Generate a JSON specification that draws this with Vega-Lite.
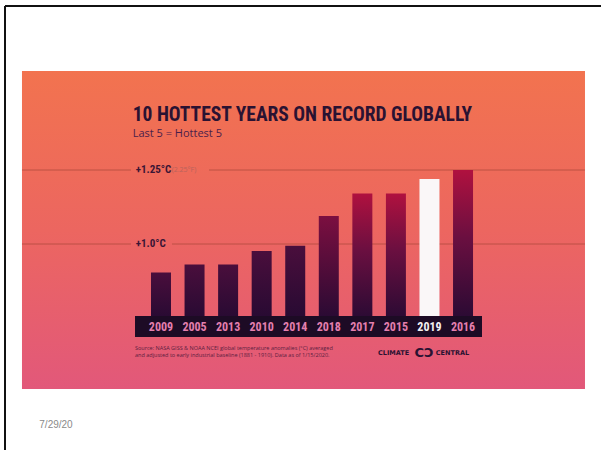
{
  "$schema": "https://vega.github.io/schema/vega-lite/v6.json",
  "width": 596,
  "height": 444,
  "autosize": {"type": "none"},
  "padding": {"left": 5, "top": 6, "right": 0, "bottom": 0},
  "background": "white",
  "config": {"view": {"stroke": null}, "axis": {"disable": true}},
  "datasets": {
    "years": [
      {"year": "2009", "rank": 1, "anomaly": 0.904},
      {"year": "2005", "rank": 2, "anomaly": 0.931},
      {"year": "2013", "rank": 3, "anomaly": 0.931},
      {"year": "2010", "rank": 4, "anomaly": 0.976},
      {"year": "2014", "rank": 5, "anomaly": 0.994},
      {"year": "2018", "rank": 6, "anomaly": 1.095},
      {"year": "2017", "rank": 7, "anomaly": 1.171},
      {"year": "2015", "rank": 8, "anomaly": 1.171},
      {"year": "2019", "rank": 9, "anomaly": 1.22},
      {"year": "2016", "rank": 10, "anomaly": 1.25}
    ]
  },
  "layer": [
    {
      "data": {"values": [{}]},
      "mark": {"type": "rule", "color": "#111111", "strokeWidth": 2},
      "encoding": {
        "x": {"datum": -3.648, "type": "quantitative", "scale": {"domain": [-3.648, 14.111], "nice": false, "zero": false, "padding": 0}, "axis": null},
        "y": {"datum": 1.8041, "type": "quantitative", "scale": {"domain": [0.3041, 1.8041], "nice": false, "zero": false, "padding": 0}, "axis": null},
        "y2": {"datum": 0.3041}
      }
    },
    {
      "data": {"values": [{}]},
      "mark": {"type": "rule", "color": "#111111", "strokeWidth": 2},
      "encoding": {
        "x": {"datum": -3.648, "type": "quantitative"},
        "x2": {"datum": 14.111},
        "y": {"datum": 1.8041, "type": "quantitative"}
      }
    },
    {
      "data": {"values": [{}]},
      "mark": {"type": "rect", "color": {"gradient": "linear", "x1": 0, "y1": 0, "x2": 0, "y2": 1, "stops": [{"offset": 0, "color": "#F2734F"}, {"offset": 0.5, "color": "#EC6660"}, {"offset": 1, "color": "#E2587A"}]}},
      "encoding": {
        "x": {"datum": -3.142, "type": "quantitative"},
        "x2": {"datum": 13.634},
        "y": {"datum": 1.5845, "type": "quantitative"},
        "y2": {"datum": 0.5101}
      }
    },
    {
      "data": {"values": [{}]},
      "mark": {"type": "rule", "color": "#A8483A", "opacity": 0.7, "strokeWidth": 1},
      "encoding": {"x": {"datum": -3.142, "type": "quantitative"}, "x2": {"datum": 0.106}, "y": {"datum": 1.25, "type": "quantitative"}}
    },
    {
      "data": {"values": [{}]},
      "mark": {"type": "rule", "color": "#A8483A", "opacity": 0.7, "strokeWidth": 1},
      "encoding": {"x": {"datum": 2.431, "type": "quantitative"}, "x2": {"datum": 13.634}, "y": {"datum": 1.25, "type": "quantitative"}}
    },
    {
      "data": {"values": [{}]},
      "mark": {"type": "rule", "color": "#A8483A", "opacity": 0.7, "strokeWidth": 1},
      "encoding": {"x": {"datum": -3.142, "type": "quantitative"}, "x2": {"datum": 0.106}, "y": {"datum": 1.0, "type": "quantitative"}}
    },
    {
      "data": {"values": [{}]},
      "mark": {"type": "rule", "color": "#A8483A", "opacity": 0.7, "strokeWidth": 1},
      "encoding": {"x": {"datum": 1.328, "type": "quantitative"}, "x2": {"datum": 13.634}, "y": {"datum": 1.0, "type": "quantitative"}}
    },
    {
      "data": {"name": "years"},
      "transform": [{"filter": {"field": "year", "oneOf": ["2009", "2005", "2013", "2010", "2014"]}}],
      "mark": {"type": "bar", "width": 20, "orient": "vertical", "color": {"gradient": "linear", "x1": 0, "y1": 0, "x2": 0, "y2": 1, "stops": [{"offset": 0, "color": "#4A0E3C"}, {"offset": 1, "color": "#260A32"}]}},
      "encoding": {"x": {"field": "rank", "type": "quantitative"}, "y": {"field": "anomaly", "type": "quantitative"}, "y2": {"datum": 0.74}}
    },
    {
      "data": {"name": "years"},
      "transform": [{"filter": {"field": "year", "oneOf": ["2018"]}}],
      "mark": {"type": "bar", "width": 20, "orient": "vertical", "color": {"gradient": "linear", "x1": 0, "y1": 0, "x2": 0, "y2": 1, "stops": [{"offset": 0, "color": "#7C0F40"}, {"offset": 1, "color": "#270A33"}]}},
      "encoding": {"x": {"field": "rank", "type": "quantitative"}, "y": {"field": "anomaly", "type": "quantitative"}, "y2": {"datum": 0.74}}
    },
    {
      "data": {"name": "years"},
      "transform": [{"filter": {"field": "year", "oneOf": ["2017", "2015", "2016"]}}],
      "mark": {"type": "bar", "width": 20, "orient": "vertical", "color": {"gradient": "linear", "x1": 0, "y1": 0, "x2": 0, "y2": 1, "stops": [{"offset": 0, "color": "#B0113F"}, {"offset": 0.45, "color": "#6A0F40"}, {"offset": 1, "color": "#280A33"}]}},
      "encoding": {"x": {"field": "rank", "type": "quantitative"}, "y": {"field": "anomaly", "type": "quantitative"}, "y2": {"datum": 0.74}}
    },
    {
      "data": {"name": "years"},
      "transform": [{"filter": {"field": "year", "oneOf": ["2019"]}}],
      "mark": {"type": "bar", "width": 20, "orient": "vertical", "color": "#FAF7F8"},
      "encoding": {"x": {"field": "rank", "type": "quantitative"}, "y": {"field": "anomaly", "type": "quantitative"}, "y2": {"datum": 0.74}}
    },
    {
      "data": {"values": [{}]},
      "mark": {"type": "rect", "color": "#1D0B25"},
      "encoding": {
        "x": {"datum": 0.226, "type": "quantitative"},
        "x2": {"datum": 10.565},
        "y": {"datum": 0.757, "type": "quantitative"},
        "y2": {"datum": 0.686}
      }
    },
    {
      "data": {"name": "years"},
      "mark": {"type": "text", "font": "Roboto Condensed, Roboto", "fontWeight": "bold", "fontSize": 12, "letterSpacing": -0.6, "baseline": "middle", "align": "center"},
      "encoding": {
        "x": {"field": "rank", "type": "quantitative"},
        "y": {"datum": 0.7206, "type": "quantitative"},
        "text": {"field": "year"},
        "color": {"condition": {"test": "datum.year === '2019'", "value": "#F4F0F2"}, "value": "#E47FAE"}
      }
    },
    {
      "data": {"values": [{}]},
      "mark": {"type": "text", "text": "10 HOTTEST YEARS ON RECORD GLOBALLY", "font": "Roboto Condensed, Roboto", "fontWeight": "bold", "fontSize": 19.5, "letterSpacing": -1.6, "align": "left", "baseline": "alphabetic", "color": "#2A1232"},
      "encoding": {"x": {"datum": 0.157, "type": "quantitative"}, "y": {"datum": 1.4155, "type": "quantitative"}}
    },
    {
      "data": {"values": [{}]},
      "mark": {"type": "text", "text": "Last 5 = Hottest 5", "font": "Open Sans", "fontSize": 11, "align": "left", "baseline": "alphabetic", "color": "#4A1E4A"},
      "encoding": {"x": {"datum": 0.157, "type": "quantitative"}, "y": {"datum": 1.3632, "type": "quantitative"}}
    },
    {
      "data": {"values": [{}]},
      "mark": {"type": "text", "text": "+1.25°C", "font": "Roboto Condensed, Roboto", "fontWeight": "bold", "fontSize": 11, "letterSpacing": -0.5, "align": "left", "baseline": "middle", "color": "#3A1535"},
      "encoding": {"x": {"datum": 0.247, "type": "quantitative"}, "y": {"datum": 1.25, "type": "quantitative"}}
    },
    {
      "data": {"values": [{}]},
      "mark": {"type": "text", "text": "(2.25°F)", "font": "Open Sans", "fontSize": 7, "align": "left", "baseline": "middle", "color": "#B8635C"},
      "encoding": {"x": {"datum": 1.319, "type": "quantitative"}, "y": {"datum": 1.25, "type": "quantitative"}}
    },
    {
      "data": {"values": [{}]},
      "mark": {"type": "text", "text": "+1.0°C", "font": "Roboto Condensed, Roboto", "fontWeight": "bold", "fontSize": 11, "letterSpacing": -0.5, "align": "left", "baseline": "middle", "color": "#3A1535"},
      "encoding": {"x": {"datum": 0.247, "type": "quantitative"}, "y": {"datum": 1.0, "type": "quantitative"}}
    },
    {
      "data": {"values": [{}]},
      "mark": {"type": "text", "text": ["Source: NASA GISS & NOAA NCEI global temperature anomalies (°C) averaged", "and adjusted to early industrial baseline (1881 - 1910). Data as of 1/15/2020."], "font": "Open Sans", "fontSize": 5.5, "lineHeight": 6.6, "align": "left", "baseline": "top", "color": "#5A1E40"},
      "encoding": {"x": {"datum": 0.226, "type": "quantitative"}, "y": {"datum": 0.6554, "type": "quantitative"}}
    },
    {
      "data": {"values": [{}]},
      "mark": {"type": "text", "text": "CLIMATE", "font": "DejaVu Sans", "fontWeight": "bold", "fontSize": 6.5, "letterSpacing": 0.9, "align": "left", "baseline": "middle", "color": "#2A1232"},
      "encoding": {"x": {"datum": 7.466, "type": "quantitative"}, "y": {"datum": 0.6328, "type": "quantitative"}}
    },
    {
      "data": {"values": [{}]},
      "mark": {"type": "text", "text": "CↃ", "font": "DejaVu Sans", "fontWeight": "bold", "fontSize": 13, "letterSpacing": -2, "align": "center", "baseline": "middle", "color": "#2A1232"},
      "encoding": {"x": {"datum": 8.84, "type": "quantitative"}, "y": {"datum": 0.6328, "type": "quantitative"}}
    },
    {
      "data": {"values": [{}]},
      "mark": {"type": "text", "text": "CENTRAL", "font": "DejaVu Sans", "fontWeight": "bold", "fontSize": 6.5, "letterSpacing": 0.9, "align": "left", "baseline": "middle", "color": "#2A1232"},
      "encoding": {"x": {"datum": 9.19, "type": "quantitative"}, "y": {"datum": 0.6328, "type": "quantitative"}}
    },
    {
      "data": {"values": [{}]},
      "mark": {"type": "text", "text": "7/29/20", "font": "Liberation Sans", "fontSize": 10, "align": "left", "baseline": "middle", "color": "#8A8A8A"},
      "encoding": {"x": {"datum": -2.626, "type": "quantitative"}, "y": {"datum": 0.3885, "type": "quantitative"}}
    }
  ]
}
